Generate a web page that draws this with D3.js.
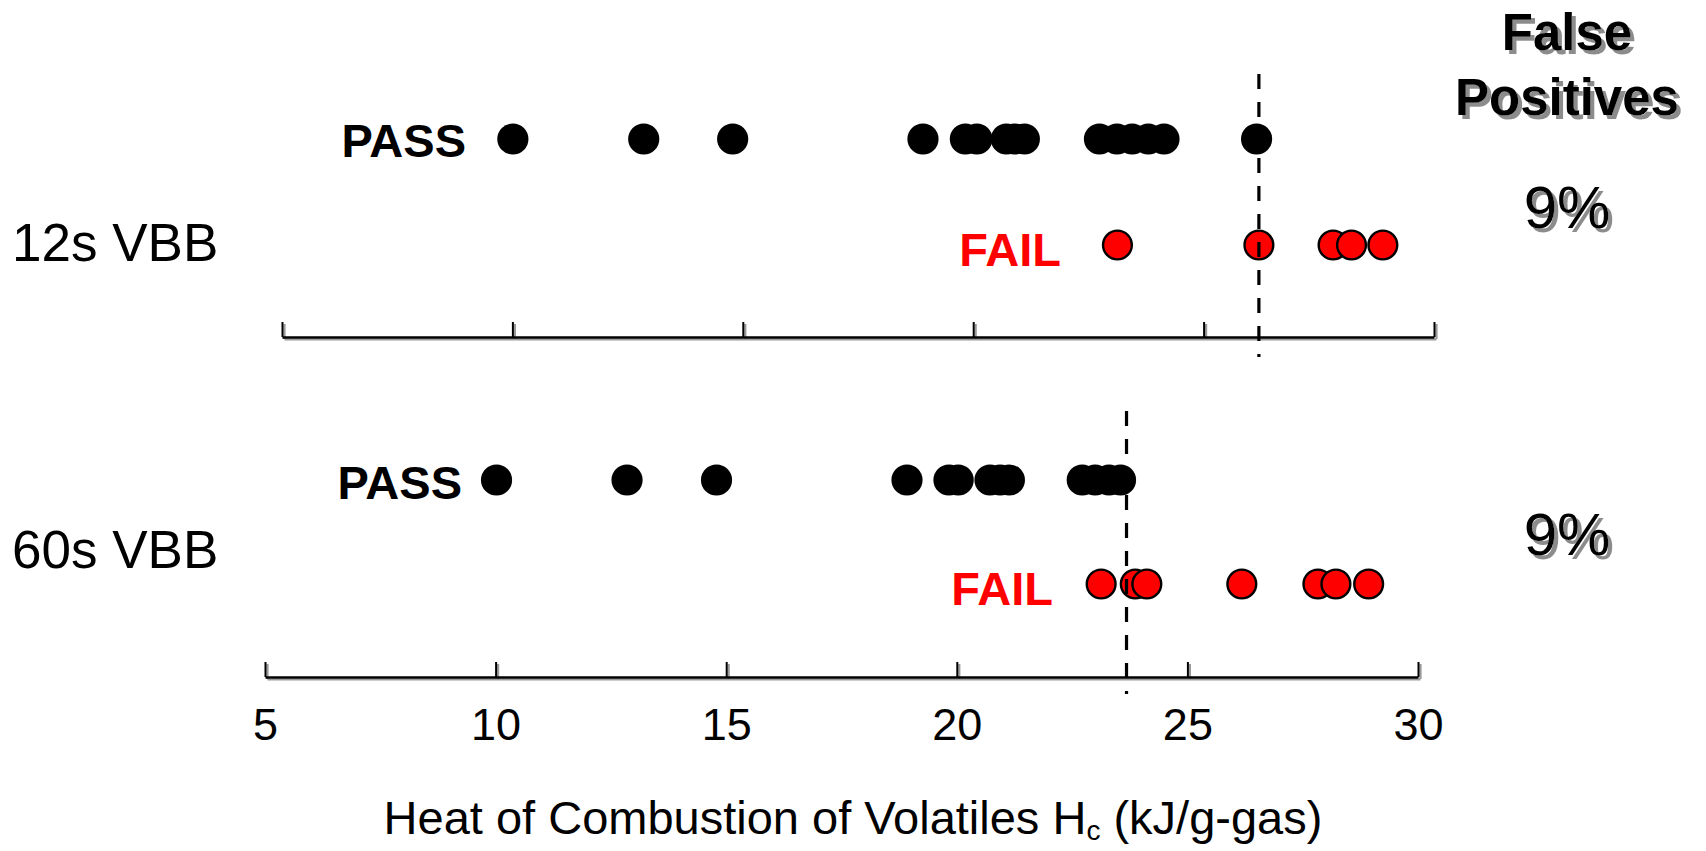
<!DOCTYPE html>
<html>
<head>
<meta charset="utf-8">
<script src="https://cdn.jsdelivr.net/npm/d3@7"></script>
<style>
  html, body { margin: 0; padding: 0; background: #fff; }
  svg { display: block; font-family: "Liberation Sans", Arial, Helvetica, sans-serif; }
</style>
</head>
<body>
<svg id="chart" width="1706" height="851"></svg>
<script>
// ---- data ----
const tickValues = [5, 10, 15, 20, 25, 30];
const rowLabels = ["12s VBB", "60s VBB"];
const pass12 = [10.01, 12.85, 14.78, 18.91, 19.83, 20.08, 20.72, 20.9, 21.11, 22.74, 23.12, 23.45, 23.8, 24.14, 26.15];
const fail12 = [23.13, 26.2, 27.81, 28.21, 28.89];
const pass60 = [10.02, 12.85, 14.79, 18.92, 19.83, 20.03, 20.72, 20.94, 21.14, 22.72, 23.0, 23.3, 23.55];
const fail60 = [23.13, 23.87, 24.12, 26.18, 27.83, 28.22, 28.93];
const thresholds = [26.2, 23.68];
const falsePositives = ["9%", "9%"];
const passLabel = "PASS", failLabel = "FAIL";
const headerLines = ["False", "Positives"];

// ---- layout ----
const svg = d3.select("#chart");

// drop shadow filter for header / percentage text
const defs = svg.append("defs");
const f = defs.append("filter").attr("id", "shadow").attr("x", "-10%").attr("y", "-10%")
  .attr("width", "130%").attr("height", "130%");
f.append("feOffset").attr("in", "SourceAlpha").attr("dx", 4).attr("dy", 4).attr("result", "off");
f.append("feFlood").attr("flood-color", "#8c8c8c").attr("result", "col");
f.append("feComposite").attr("in", "col").attr("in2", "off").attr("operator", "in").attr("result", "sh");
const m = f.append("feMerge");
m.append("feMergeNode").attr("in", "sh");
m.append("feMergeNode").attr("in", "SourceGraphic");

const panels = [
  { label: rowLabels[0], pass: pass12, fail: fail12, thr: thresholds[0], fp: falsePositives[0],
    range: [282, 1434], axisY: 337, passY: 139, failY: 245, labelY: 261,
    passTextEnd: 466, passTextY: 157, failTextEnd: 1061, failTextY: 266,
    dashTop: 74, dashBottom: 357, fpY: 228, showLabels: false },
  { label: rowLabels[1], pass: pass60, fail: fail60, thr: thresholds[1], fp: falsePositives[1],
    range: [265, 1418], axisY: 677, passY: 480, failY: 584, labelY: 568,
    passTextEnd: 462, passTextY: 499, failTextEnd: 1053, failTextY: 605,
    dashTop: 411, dashBottom: 694, fpY: 555, showLabels: true }
];

panels.forEach(p => {
  const x = d3.scaleLinear().domain([5, 30]).range(p.range);

  // axis shadow
  const axisFn = d3.axisBottom(x).tickValues(tickValues).tickSizeInner(-15).tickSizeOuter(0).tickPadding(31)
    .tickFormat(p.showLabels ? d3.format("d") : () => "");
  const shadow = svg.append("g").attr("transform", `translate(2,${p.axisY + 2})`).call(axisFn);
  shadow.selectAll("path,line").attr("stroke", "#9a9a9a").attr("stroke-width", 2.2);
  shadow.selectAll("text").remove();

  const g = svg.append("g").attr("transform", `translate(0,${p.axisY})`).call(axisFn);
  g.select(".domain").attr("stroke", "#000").attr("stroke-width", 2.4);
  g.selectAll(".tick line").attr("stroke", "#000").attr("stroke-width", 2);
  g.selectAll(".tick text").attr("font-size", 45).attr("fill", "#000")
    .attr("font-family", "'Liberation Sans', Arial, sans-serif");
  if (!p.showLabels) g.selectAll(".tick text").remove();

  // row label
  svg.append("text").attr("x", 12).attr("y", p.labelY).attr("font-size", 53).attr("fill", "#000").text(p.label);

  // PASS / FAIL labels
  svg.append("text").attr("x", p.passTextEnd).attr("y", p.passTextY).attr("text-anchor", "end")
    .attr("font-size", 47).attr("font-weight", "bold").attr("fill", "#000").text(passLabel);
  svg.append("text").attr("x", p.failTextEnd).attr("y", p.failTextY).attr("text-anchor", "end")
    .attr("font-size", 47).attr("font-weight", "bold").attr("fill", "#ff0000").text(failLabel);

  // dots
  svg.append("g").selectAll("circle").data(p.pass).join("circle")
    .attr("cx", d => x(d)).attr("cy", p.passY).attr("r", 15.6).attr("fill", "#000");
  svg.append("g").selectAll("circle").data(p.fail).join("circle")
    .attr("cx", d => x(d)).attr("cy", p.failY).attr("r", 14.4)
    .attr("fill", "#ff0000").attr("stroke", "#000").attr("stroke-width", 2.4);

  // threshold dashed line
  svg.append("line").attr("x1", x(p.thr)).attr("x2", x(p.thr)).attr("y1", p.dashTop).attr("y2", p.dashBottom)
    .attr("stroke", "#000").attr("stroke-width", 3.2).attr("stroke-dasharray", "15,13");

  // false positive %
  svg.append("text").attr("x", 1567).attr("y", p.fpY).attr("text-anchor", "middle")
    .attr("font-size", 60).attr("fill", "#000").attr("filter", "url(#shadow)").text(p.fp);
});

// header
const hdrY = [50, 115];
headerLines.forEach((t, i) => {
  svg.append("text").attr("x", 1567).attr("y", hdrY[i]).attr("text-anchor", "middle")
    .attr("font-size", 51).attr("font-weight", "bold").attr("fill", "#000")
    .attr("filter", "url(#shadow)").text(t);
});

// x-axis title
const title = svg.append("text").attr("x", 853).attr("y", 834).attr("text-anchor", "middle")
  .attr("font-size", 47).attr("fill", "#000");
title.append("tspan").text("Heat of Combustion of Volatiles H");
title.append("tspan").attr("font-size", 28).attr("dy", 6).text("c");
title.append("tspan").attr("dy", -6).text(" (kJ/g-gas)");
</script>
</body>
</html>
